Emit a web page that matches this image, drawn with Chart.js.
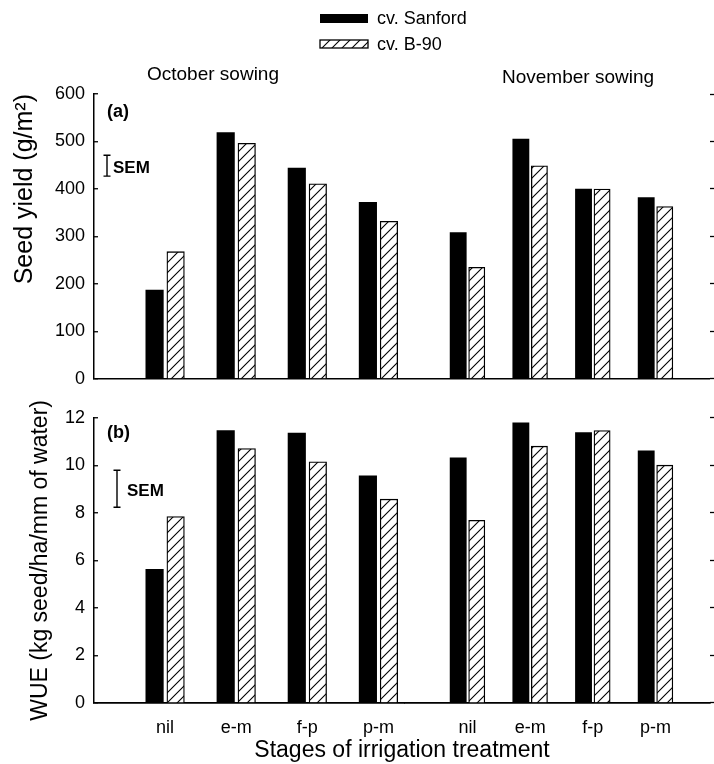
<!DOCTYPE html>
<html>
<head>
<meta charset="utf-8">
<script src="https://cdn.jsdelivr.net/npm/chart.js@4.4.0/dist/chart.umd.min.js"></script>
<style>
  html, body { margin: 0; padding: 0; background: #ffffff; }
  #wrap { width: 714px; height: 764px; }
  canvas { display: block; }
</style>
</head>
<body>
<div id="wrap"><canvas id="c" width="714" height="764"></canvas></div>
<script>
// ---------------- data ----------------
const treatments = ['nil', 'e-m', 'f-p', 'p-m'];
const sowings = ['October sowing', 'November sowing'];
const cultivars = ['cv. Sanford', 'cv. B-90'];

const octSanfordYield = [187, 519, 444, 372];
const octB90Yield     = [268, 496, 411, 332];
const novSanfordYield = [308, 505, 400, 382];
const novB90Yield     = [235, 449, 400, 363];

const octSanfordWUE = [5.63, 11.47, 11.36, 9.56];
const octB90WUE     = [7.85, 10.71, 10.15, 8.58];
const novSanfordWUE = [10.32, 11.79, 11.38, 10.61];
const novB90WUE     = [7.69, 10.81, 11.47, 10.01];

const yieldSEM = [427, 471];
const wueSEM = [8.24, 9.8];

const yieldAxis = { min: 0, max: 600, step: 100 };
const wueAxis = { min: 0, max: 12, step: 2 };
const yieldTitle = 'Seed yield (g/m\u00B2)';
const wueTitle = 'WUE (kg seed/ha/mm of water)';
const xTitle = 'Stages of irrigation treatment';
const panelLabels = ['(a)', '(b)'];

// ---------------- styles / layout ----------------
const FONT = '"Liberation Sans", Arial, Helvetica, sans-serif';

function makeHatch() {
  const s = 10;
  const c = document.createElement('canvas');
  c.width = s; c.height = s;
  const g = c.getContext('2d');
  g.fillStyle = '#ffffff';
  g.fillRect(0, 0, s, s);
  g.strokeStyle = '#000000';
  g.lineWidth = 1.1;
  g.beginPath();
  g.moveTo(0, s); g.lineTo(s, 0);
  g.moveTo(-s / 2, s / 2); g.lineTo(s / 2, -s / 2);
  g.moveTo(s / 2, s * 1.5); g.lineTo(s * 1.5, s / 2);
  g.stroke();
  return g.createPattern(c, 'repeat');
}
const hatch = makeHatch();

const octMax = 4.371, novMax = 4.870;       // axis extents (category units)
const octWeight = 310.8, novWeight = 305.2; // share of plot width
const pairShift = 0.148;                     // half-distance between the two bars of a pair
const octBarPx = 17.5, novBarPx = 16.2;

const sanfordStyle = { backgroundColor: '#000000', borderWidth: 0, grouped: false };
const b90Style = { backgroundColor: hatch, borderColor: '#000000', borderWidth: 1.3, grouped: false };

function ds(label, data, xID, yID, style, thick) {
  return Object.assign({ label, data, xAxisID: xID, yAxisID: yID, barThickness: thick }, style);
}

const labelOf = (v) => {
  const r = Math.round(v);
  return (Math.abs(v - r) < 1e-6 && r >= 1 && r <= treatments.length) ? treatments[r - 1] : '';
};

function noPad(s) { s.paddingLeft = 0; s.paddingRight = 0; s.paddingTop = 0; s.paddingBottom = 0; }

function leftY(ax, title, titleSize, titlePad, titleAlign, weight) {
  return {
    type: 'linear', position: 'left', stack: 'left', stackWeight: weight,
    min: ax.min, max: ax.max, stacked: false,
    afterFit: (s) => { s.width = 94; },
    border: { display: true, color: '#000', width: 1.5 },
    grid: {
      display: true, drawOnChartArea: true, drawTicks: true, tickLength: -4,
      color: (ctx) => (ctx.tick && ctx.tick.value === 0) ? '#000' : 'rgba(0,0,0,0)',
      lineWidth: 1.5, tickColor: '#000', tickWidth: 1.3
    },
    ticks: { stepSize: ax.step, color: '#000', padding: 13, font: { family: FONT, size: 18 } },
    title: { display: true, text: title, color: '#000', align: titleAlign,
             font: { family: FONT, size: titleSize }, padding: { top: titlePad, bottom: 0 } }
  };
}
function rightY(ax, weight) {
  return {
    type: 'linear', position: 'right', stack: 'right', stackWeight: weight,
    min: ax.min, max: ax.max,
    afterFit: (s) => { s.width = 4; noPad(s); },
    border: { display: false },
    grid: { display: true, drawOnChartArea: false, drawTicks: true, tickLength: 4, tickColor: '#000', tickWidth: 1.3 },
    ticks: { stepSize: ax.step, display: false }
  };
}
function gapY(pos, weight) {
  return {
    type: 'linear', position: pos, stack: pos, stackWeight: weight, min: 0, max: 1,
    afterFit: (s) => { s.width = 0; noPad(s); },
    border: { display: false },
    grid: { display: false, drawTicks: false },
    ticks: { display: false }
  };
}
// visible category axis with labels
function labelX(max, weight) {
  return {
    type: 'linear', position: 'bottom', stack: 'labels', stackWeight: weight,
    min: 0, max: max, offset: false, bounds: 'data',
    afterFit: (s) => { s.height = 36; noPad(s); },
    border: { display: true, color: '#000', width: 1.5 },
    grid: { display: false, drawTicks: false, tickLength: 0 },
    ticks: { stepSize: 1, includeBounds: false, autoSkip: false, maxRotation: 0,
             color: '#000', padding: 14, font: { family: FONT, size: 18 }, callback: labelOf }
  };
}
// hidden twin axis, shifted so one cultivar sits left or right of the category centre
function pairX(max, weight, stackName, shift) {
  return {
    type: 'linear', position: 'bottom', stack: stackName, stackWeight: weight,
    min: shift, max: max + shift, offset: false, bounds: 'data',
    afterFit: (s) => { s.height = 0; noPad(s); },
    border: { display: false },
    grid: { display: false, drawTicks: false, tickLength: 0 },
    ticks: { stepSize: 1, includeBounds: false, display: false }
  };
}

// ---------------- annotations plugin ----------------
const annotations = {
  id: 'annotations',
  afterDraw(chart) {
    const { ctx, chartArea: ca, scales } = chart;
    const ya = scales.ya, yb = scales.yb;
    ctx.save();
    ctx.fillStyle = '#000';
    ctx.strokeStyle = '#000';
    ctx.textBaseline = 'middle';

    // legend
    const items = [chart.data.datasets[0], chart.data.datasets[1]];
    const lx = 320, bw = 48;
    const rows = [{ y: 18.5, h: 9 }, { y: 44, h: 8 }];
    items.forEach((d, i) => {
      const r = rows[i];
      ctx.fillStyle = d.backgroundColor;
      ctx.fillRect(lx, r.y - r.h / 2, bw, r.h);
      if (d.borderWidth) {
        ctx.lineWidth = d.borderWidth;
        ctx.strokeStyle = d.borderColor;
        ctx.strokeRect(lx, r.y - r.h / 2, bw, r.h);
      }
      ctx.fillStyle = '#000';
      ctx.font = '18px ' + FONT;
      ctx.textAlign = 'left';
      ctx.fillText(d.label, lx + bw + 9, r.y + 1);
    });

    // sowing labels
    ctx.font = '19px ' + FONT;
    ctx.textAlign = 'center';
    ctx.fillText(sowings[0], 213, 75);
    ctx.fillText(sowings[1], 578, 78);

    // panel labels
    ctx.font = 'bold 18px ' + FONT;
    ctx.textAlign = 'left';
    ctx.fillText(panelLabels[0], ca.left + 13, ya.getPixelForValue(yieldAxis.max) + 18);
    ctx.fillText(panelLabels[1], ca.left + 13, yb.getPixelForValue(wueAxis.max) + 15);

    // SEM bars
    const sem = (scale, range, x, textX) => {
      const y1 = scale.getPixelForValue(range[0]);
      const y2 = scale.getPixelForValue(range[1]);
      ctx.lineWidth = 1.4;
      ctx.beginPath();
      ctx.moveTo(x, y1); ctx.lineTo(x, y2);
      ctx.moveTo(x - 3.5, y1); ctx.lineTo(x + 3.5, y1);
      ctx.moveTo(x - 3.5, y2); ctx.lineTo(x + 3.5, y2);
      ctx.stroke();
      ctx.font = 'bold 17px ' + FONT;
      ctx.textAlign = 'left';
      ctx.fillText('SEM', textX, (y1 + y2) / 2 + 3);
    };
    sem(ya, yieldSEM, ca.left + 13, ca.left + 19);
    sem(yb, wueSEM, ca.left + 23, ca.left + 33);
    ctx.restore();
  }
};

// ---------------- chart ----------------
new Chart(document.getElementById('c'), {
  type: 'bar',
  data: {
    labels: treatments.map((_, i) => i + 1),
    datasets: [
      ds(cultivars[0], octSanfordYield, 'xOctS', 'ya', sanfordStyle, octBarPx),
      ds(cultivars[1], octB90Yield, 'xOctB', 'ya', b90Style, octBarPx),
      ds(cultivars[0], novSanfordYield, 'xNovS', 'ya', sanfordStyle, novBarPx),
      ds(cultivars[1], novB90Yield, 'xNovB', 'ya', b90Style, novBarPx),
      ds(cultivars[0], octSanfordWUE, 'xOctS', 'yb', sanfordStyle, octBarPx),
      ds(cultivars[1], octB90WUE, 'xOctB', 'yb', b90Style, octBarPx),
      ds(cultivars[0], novSanfordWUE, 'xNovS', 'yb', sanfordStyle, novBarPx),
      ds(cultivars[1], novB90WUE, 'xNovB', 'yb', b90Style, novBarPx)
    ]
  },
  options: {
    responsive: false,
    animation: false,
    devicePixelRatio: 1,
    events: [],
    layout: { padding: { top: 94, left: 0, right: 0, bottom: 0 } },
    scales: {
      yb: leftY(wueAxis, wueTitle, 23, 27, 'center', 285),
      ygap: gapY('left', 39),
      ya: leftY(yieldAxis, yieldTitle, 25, 10, 'end', 285),
      yaR: rightY(yieldAxis, 285),
      ygapR: gapY('right', 39),
      ybR: rightY(wueAxis, 285),
      xOctS: pairX(octMax, octWeight, 'sanford', pairShift),
      xNovS: pairX(novMax, novWeight, 'sanford', pairShift),
      xOctB: pairX(octMax, octWeight, 'b90', -pairShift),
      xNovB: pairX(novMax, novWeight, 'b90', -pairShift),
      xOct: labelX(octMax, octWeight),
      xNov: labelX(novMax, novWeight)
    },
    plugins: {
      legend: { display: false },
      tooltip: { enabled: false },
      title: {
        display: true, text: xTitle, position: 'bottom', fullSize: false,
        color: '#000', font: { family: FONT, size: 23, weight: 'normal' },
        padding: { top: -2.5, bottom: 0 }
      }
    }
  },
  plugins: [annotations]
});
</script>
</body>
</html>
